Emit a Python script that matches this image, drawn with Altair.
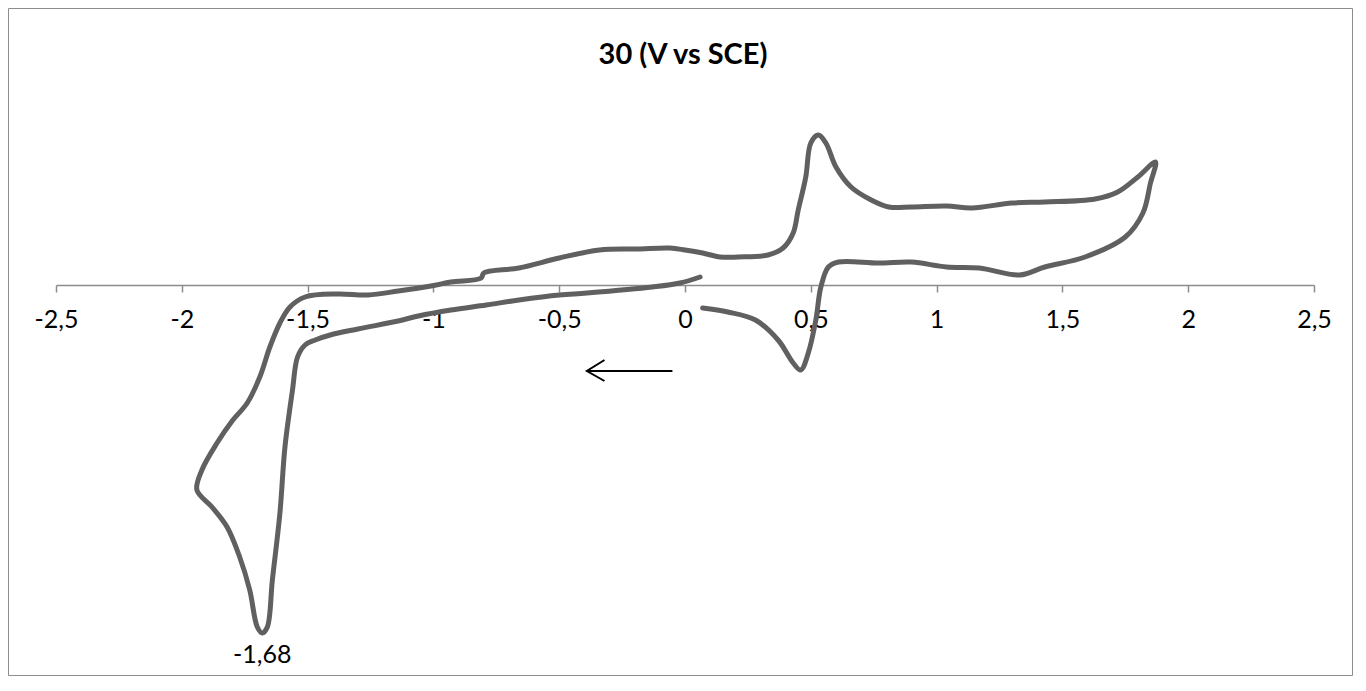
import altair as alt
import pandas as pd

# Cyclic voltammogram, potential (V vs SCE) and current (arbitrary units)
potential = [0.06, -0.02, -0.13, -0.39, -0.50, -0.66, -0.79, -0.93, -1.06, -1.14,
             -1.30, -1.41, -1.47, -1.51, -1.54, -1.56, -1.59, -1.61, -1.64, -1.66,
             -1.68, -1.70, -1.73, -1.77, -1.82, -1.88, -1.94, -1.92, -1.86, -1.80,
             -1.74, -1.69, -1.65, -1.61, -1.57, -1.51, -1.38, -1.26, -1.14, -1.01,
             -0.93, -0.81, -0.80, -0.66, -0.50, -0.34, -0.19, -0.06, 0.00, 0.07,
             0.14, 0.21, 0.33, 0.39, 0.43, 0.45, 0.48, 0.50, 0.53, 0.56,
             0.60, 0.66, 0.74, 0.81, 0.90, 1.04, 1.14, 1.30, 1.43, 1.63,
             1.72, 1.80, 1.87, 1.85, 1.82, 1.75, 1.59, 1.43, 1.33, 1.17,
             1.04, 0.90, 0.77, 0.61, 0.57, 0.54, 0.52, 0.49, 0.46, 0.43,
             0.37, 0.28, 0.17, 0.07]
current = [0.8, 0.2, -0.2, -0.8, -1.0, -1.5, -2.0, -2.5, -3.1, -3.6,
           -4.4, -5.0, -5.5, -6.0, -7.2, -10.5, -16.2, -22.8, -29.5, -34.2,
           -34.8, -34.2, -30.5, -27.2, -24.2, -22.2, -20.5, -18.5, -15.8, -13.6,
           -11.8, -9.2, -6.2, -3.8, -2.2, -1.2, -0.9, -1.0, -0.6, -0.1,
           0.3, 0.7, 1.2, 1.7, 2.7, 3.5, 3.6, 3.7, 3.5, 3.2,
           2.8, 2.8, 3.0, 3.7, 5.2, 7.5, 10.8, 14.2, 15.0, 14.2,
           11.8, 9.8, 8.5, 7.8, 7.8, 7.9, 7.7, 8.2, 8.3, 8.6,
           9.3, 10.8, 12.3, 10.2, 7.2, 4.8, 2.8, 1.8, 1.0, 1.7,
           1.8, 2.3, 2.2, 2.3, 1.8, -0.2, -3.5, -6.8, -8.5, -7.8,
           -5.5, -3.5, -2.7, -2.3]

tick_values = [-2.5, -2.0, -1.5, -1.0, -0.5, 0.0, 0.5, 1.0, 1.5, 2.0, 2.5]

# scan-direction arrow (two strokes: shaft and open head)
arrow_v = [-0.05, -0.39, -0.32, -0.39, -0.32]
arrow_i = [-8.6, -8.6, -7.5, -8.6, -9.6]
arrow_seg = [0, 0, 1, 1, 1]

peak_v = [-1.68]
peak_i = [-37.0]
peak_label = ["-1,68"]

title_text = ["30 (V vs SCE)"]

X_DOMAIN = [-2.5, 2.5]
Y_DOMAIN = [-38, 20]
W, H = 1258, 580

cv = pd.DataFrame({"V": potential, "I": current, "k": range(len(potential))})
arrow = pd.DataFrame({"V": arrow_v, "I": arrow_i, "seg": arrow_seg,
                      "k": range(len(arrow_v))})
peak = pd.DataFrame({"V": peak_v, "I": peak_i, "label": peak_label})
ttl = pd.DataFrame({"t": title_text})

xscale = alt.Scale(domain=X_DOMAIN, nice=False, zero=False)
yscale = alt.Scale(domain=Y_DOMAIN, nice=False, zero=False)

xaxis = alt.Axis(
    values=tick_values,
    labelExpr="replace(toString(datum.value), '.', ',')",
    title=None,
    grid=False,
    offset=-(H - 200),
    domainColor="#8c8c8c",
    domainWidth=1.5,
    tickColor="#8c8c8c",
    tickWidth=1.5,
    tickSize=7,
    labelPadding=15,
    labelFont="Lato",
    labelFontSize=25,
    labelColor="#000000",
    labelFlush=False,
)

line = alt.Chart(cv).mark_line(
    color="#606060", strokeWidth=5, interpolate="catmull-rom", strokeJoin="round",
    strokeCap="round"
).encode(
    x=alt.X("V:Q", scale=xscale, axis=xaxis),
    y=alt.Y("I:Q", scale=yscale, axis=None),
    order="k:Q",
)

arrow_layer = alt.Chart(arrow).mark_line(color="#000000", strokeWidth=2).encode(
    x=alt.X("V:Q", scale=xscale),
    y=alt.Y("I:Q", scale=yscale),
    detail="seg:N",
    order="k:Q",
)

label = alt.Chart(peak).mark_text(
    font="Lato", fontSize=25, color="#000000", baseline="middle", align="center"
).encode(
    x=alt.X("V:Q", scale=xscale),
    y=alt.Y("I:Q", scale=yscale),
    text="label:N",
)

title = alt.Chart(ttl).mark_text(
    font="Lato", fontSize=29, fontWeight="bold", color="#000000",
    baseline="middle", align="center"
).encode(
    x=alt.value(W / 2 - 2),
    y=alt.value(-30),
    text="t:N",
)

border = alt.Chart(pd.DataFrame({"a": [0]})).mark_rect(
    fill=None, stroke="#8c8c8c", strokeWidth=1
).encode(
    x=alt.value(-47.5),
    x2=alt.value(W + 38.5),
    y=alt.value(-76.5),
    y2=alt.value(H + 10.5),
)

chart = alt.layer(border, line, arrow_layer, label, title).properties(
    width=W,
    height=H,
    autosize=alt.AutoSizeParams(type="none"),
    padding={"left": 48, "top": 77, "right": 39, "bottom": 11},
).configure_view(stroke=None)

chart.save("out.html", embed_options={"renderer": "svg", "actions": False})
